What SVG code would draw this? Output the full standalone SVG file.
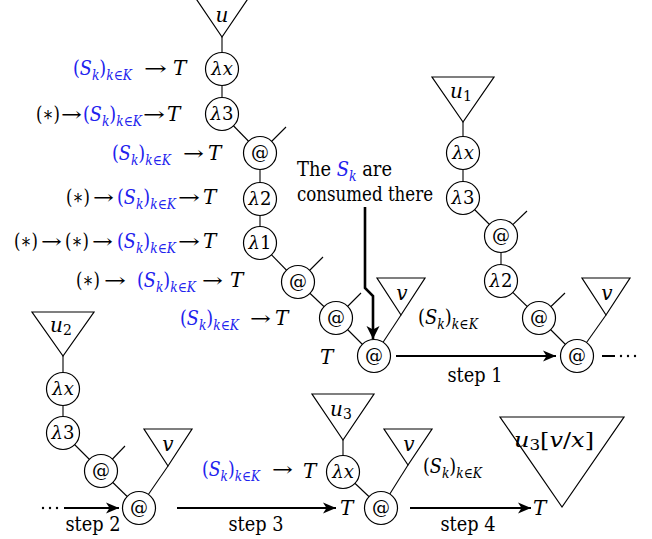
<svg xmlns="http://www.w3.org/2000/svg" width="652" height="539" viewBox="0 0 652 539">
<style>
  text, tspan { font-family: 'DejaVu Serif', 'Liberation Serif', serif; }
  text { font-size: 20px; fill: #000; }
  .it { font-style: italic; }
  .sub { font-size: 14px; }
  .blue, .blue tspan { fill: #2222ee; }
  .nl { font-size: 18px; text-anchor: middle; }
  .node circle { fill: #fff; stroke: #000; stroke-width: 1.2; }
  .tri { fill: #fff; stroke: #000; stroke-width: 1.2; }
  .edge { stroke: #000; stroke-width: 1.1; fill: none; }
  .step { stroke: #000; stroke-width: 2; fill: none; marker-end: url(#ah); }
  .thick { stroke: #000; stroke-width: 2.6; fill: none; marker-end: url(#ah2); }
  .dot { fill: #000; }
  .mid { text-anchor: middle; }
</style>
<defs>
  <marker id="ah" markerUnits="userSpaceOnUse" markerWidth="14" markerHeight="12" refX="13" refY="6" orient="auto">
    <path d="M0,0.5 L13,6 L0,11.5 L3.5,6 z" fill="#000"/>
  </marker>
  <marker id="ah2" markerUnits="userSpaceOnUse" markerWidth="14" markerHeight="14" refX="13" refY="7" orient="auto">
    <path d="M0,0.5 L13,7 L0,13.5 L3.5,7 z" fill="#000"/>
  </marker>
</defs>

<g id="connectors">
  <line class="edge" x1="222" y1="37" x2="222" y2="69"/>
  <line class="edge" x1="222" y1="69" x2="222" y2="114"/>
  <line class="edge" x1="222" y1="114" x2="260" y2="153"/>
  <line class="edge" x1="260" y1="153" x2="286" y2="127"/>
  <line class="edge" x1="260" y1="153" x2="260" y2="199"/>
  <line class="edge" x1="260" y1="199" x2="260" y2="243"/>
  <line class="edge" x1="260" y1="243" x2="298" y2="282"/>
  <line class="edge" x1="298" y1="282" x2="323" y2="257"/>
  <line class="edge" x1="298" y1="282" x2="336" y2="318"/>
  <line class="edge" x1="336" y1="318" x2="361" y2="293"/>
  <line class="edge" x1="336" y1="318" x2="374" y2="356"/>
  <line class="edge" x1="374" y1="356" x2="401" y2="315"/>
  <line class="edge" x1="463" y1="122" x2="463" y2="153"/>
  <line class="edge" x1="463" y1="153" x2="463" y2="198"/>
  <line class="edge" x1="463" y1="198" x2="501" y2="236"/>
  <line class="edge" x1="501" y1="236" x2="527" y2="211"/>
  <line class="edge" x1="501" y1="236" x2="501" y2="281"/>
  <line class="edge" x1="501" y1="281" x2="539" y2="318"/>
  <line class="edge" x1="539" y1="318" x2="565" y2="293"/>
  <line class="edge" x1="539" y1="318" x2="577" y2="356"/>
  <line class="edge" x1="577" y1="356" x2="606" y2="315"/>
  <line class="edge" x1="63" y1="355" x2="63" y2="389"/>
  <line class="edge" x1="63" y1="389" x2="63" y2="433"/>
  <line class="edge" x1="63" y1="433" x2="101" y2="471"/>
  <line class="edge" x1="101" y1="471" x2="125" y2="446"/>
  <line class="edge" x1="101" y1="471" x2="139" y2="508"/>
  <line class="edge" x1="139" y1="508" x2="168" y2="466"/>
  <line class="edge" x1="343" y1="440" x2="343" y2="472"/>
  <line class="edge" x1="343" y1="472" x2="381" y2="508"/>
  <line class="edge" x1="381" y1="508" x2="408" y2="465"/>
  <line class="step" x1="396" y1="356" x2="556" y2="356"/>
  <line x1="602" y1="356" x2="615" y2="356" stroke="#000" stroke-width="2"/>
  <circle class="dot" cx="621" cy="356" r="1.2"/>
  <circle class="dot" cx="628" cy="356" r="1.2"/>
  <circle class="dot" cx="635" cy="356" r="1.2"/>
  <circle class="dot" cx="43" cy="508" r="1.2"/>
  <circle class="dot" cx="50" cy="508" r="1.2"/>
  <circle class="dot" cx="57" cy="508" r="1.2"/>
  <line class="step" x1="64" y1="508" x2="119" y2="508"/>
  <line class="step" x1="177" y1="508" x2="336" y2="508"/>
  <line class="step" x1="410" y1="508" x2="531" y2="508"/>
  <path class="thick" d="M365,207 V288 L373,296 V339"/>
</g>

<g id="u-top"><polygon class="tri" points="191.5,-8 252.5,-8 222,37"/><text font-family="DejaVu Serif" class="it mid" x="222" y="22">u</text></g>
<g id="t-lx" class="node"><circle cx="222" cy="69" r="16.5"/><text font-family="DejaVu Serif" class="nl it" x="222" y="75">λx</text></g>
<g id="t-l3" class="node"><circle cx="222" cy="114" r="16.5"/><text font-family="DejaVu Serif" class="nl" x="222" y="120"><tspan class="it">λ</tspan>3</text></g>
<g id="t-ap1" class="node"><circle cx="260" cy="153" r="16.5"/><text font-family="DejaVu Serif" class="nl" x="260" y="159">@</text></g>
<g id="t-l2" class="node"><circle cx="260" cy="199" r="16.5"/><text font-family="DejaVu Serif" class="nl" x="260" y="205"><tspan class="it">λ</tspan>2</text></g>
<g id="t-l1" class="node"><circle cx="260" cy="243" r="16.5"/><text font-family="DejaVu Serif" class="nl" x="260" y="249"><tspan class="it">λ</tspan>1</text></g>
<g id="t-ap2" class="node"><circle cx="298" cy="282" r="16.5"/><text font-family="DejaVu Serif" class="nl" x="298" y="288">@</text></g>
<g id="t-ap3" class="node"><circle cx="336" cy="318" r="16.5"/><text font-family="DejaVu Serif" class="nl" x="336" y="324">@</text></g>
<g id="t-ap4" class="node"><circle cx="374" cy="356" r="16.5"/><text font-family="DejaVu Serif" class="nl" x="374" y="362">@</text></g>
<g id="v-top"><polygon class="tri" points="377,278 425,278 401,315"/><text font-family="DejaVu Serif" class="it mid" x="402" y="300">v</text></g>

<g id="u1"><polygon class="tri" points="432,77 494,77 463,122"/><text font-family="DejaVu Serif" class="it mid" x="461" y="98">u<tspan class="sub" font-style="normal" dy="3">1</tspan></text></g>
<g id="r-lx" class="node"><circle cx="463" cy="153" r="16.5"/><text font-family="DejaVu Serif" class="nl it" x="463" y="159">λx</text></g>
<g id="r-l3" class="node"><circle cx="463" cy="198" r="16.5"/><text font-family="DejaVu Serif" class="nl" x="463" y="204"><tspan class="it">λ</tspan>3</text></g>
<g id="r-ap1" class="node"><circle cx="501" cy="236" r="16.5"/><text font-family="DejaVu Serif" class="nl" x="501" y="242">@</text></g>
<g id="r-l2" class="node"><circle cx="501" cy="281" r="16.5"/><text font-family="DejaVu Serif" class="nl" x="501" y="287"><tspan class="it">λ</tspan>2</text></g>
<g id="r-ap2" class="node"><circle cx="539" cy="318" r="16.5"/><text font-family="DejaVu Serif" class="nl" x="539" y="324">@</text></g>
<g id="r-ap3" class="node"><circle cx="577" cy="356" r="16.5"/><text font-family="DejaVu Serif" class="nl" x="577" y="362">@</text></g>
<g id="v-right"><polygon class="tri" points="582,278 630,278 606,315"/><text font-family="DejaVu Serif" class="it mid" x="607" y="300">v</text></g>

<g id="u2"><polygon class="tri" points="32,312 94,312 63,356"/><text font-family="DejaVu Serif" class="it mid" x="61" y="332">u<tspan class="sub" font-style="normal" dy="3">2</tspan></text></g>
<g id="bl-lx" class="node"><circle cx="63" cy="389" r="16.5"/><text font-family="DejaVu Serif" class="nl it" x="63" y="395">λx</text></g>
<g id="bl-l3" class="node"><circle cx="63" cy="433" r="16.5"/><text font-family="DejaVu Serif" class="nl" x="63" y="439"><tspan class="it">λ</tspan>3</text></g>
<g id="bl-ap1" class="node"><circle cx="101" cy="471" r="16.5"/><text font-family="DejaVu Serif" class="nl" x="101" y="477">@</text></g>
<g id="bl-ap2" class="node"><circle cx="139" cy="508" r="16.5"/><text font-family="DejaVu Serif" class="nl" x="139" y="514">@</text></g>
<g id="v-bl"><polygon class="tri" points="144,429 192,429 168,466"/><text font-family="DejaVu Serif" class="it mid" x="168" y="451">v</text></g>

<g id="u3"><polygon class="tri" points="312,394 374,394 343,440"/><text font-family="DejaVu Serif" class="it mid" x="341" y="416">u<tspan class="sub" font-style="normal" dy="3">3</tspan></text></g>
<g id="bm-lx" class="node"><circle cx="343" cy="472" r="16.5"/><text font-family="DejaVu Serif" class="nl it" x="343" y="478">λx</text></g>
<g id="bm-ap" class="node"><circle cx="381" cy="508" r="16.5"/><text font-family="DejaVu Serif" class="nl" x="381" y="514">@</text></g>
<g id="v-bm"><polygon class="tri" points="384,429 432,429 408,465"/><text font-family="DejaVu Serif" class="it mid" x="409" y="451">v</text></g>

<g id="u3-subst"><polygon class="tri" points="500,417 624,417 562,507"/><text font-family="DejaVu Serif" x="514" y="447" textLength="80" lengthAdjust="spacingAndGlyphs"><tspan class="it">u</tspan><tspan class="sub" dy="3">3</tspan><tspan dy="-3">[</tspan><tspan class="it">v</tspan>/<tspan class="it">x</tspan>]</text></g>

<g id="label-row1">
  <text font-family="DejaVu Serif" class="blue" x="73" y="75" textLength="59" lengthAdjust="spacingAndGlyphs">(<tspan class="it">S</tspan><tspan class="sub it" dy="5">k</tspan><tspan dy="-5">)</tspan><tspan class="sub" dy="5"><tspan class="it">k</tspan>∈<tspan class="it">K</tspan></tspan></text>
  <text font-family="DejaVu Serif" x="144" y="75" textLength="23" lengthAdjust="spacingAndGlyphs">→</text><text font-family="DejaVu Serif" class="it" x="173" y="75">T</text>
</g>
<g id="label-row2">
  <text font-family="DejaVu Serif" x="36" y="121" textLength="24" lengthAdjust="spacingAndGlyphs">(∗)</text><text font-family="DejaVu Serif" x="61" y="121" textLength="21" lengthAdjust="spacingAndGlyphs">→</text>
  <text font-family="DejaVu Serif" class="blue" x="83" y="121" textLength="59" lengthAdjust="spacingAndGlyphs">(<tspan class="it">S</tspan><tspan class="sub it" dy="5">k</tspan><tspan dy="-5">)</tspan><tspan class="sub" dy="5"><tspan class="it">k</tspan>∈<tspan class="it">K</tspan></tspan></text>
  <text font-family="DejaVu Serif" x="143" y="121" textLength="22" lengthAdjust="spacingAndGlyphs">→</text><text font-family="DejaVu Serif" class="it" x="167" y="121">T</text>
</g>
<g id="label-row3">
  <text font-family="DejaVu Serif" class="blue" x="112" y="160" textLength="59" lengthAdjust="spacingAndGlyphs">(<tspan class="it">S</tspan><tspan class="sub it" dy="5">k</tspan><tspan dy="-5">)</tspan><tspan class="sub" dy="5"><tspan class="it">k</tspan>∈<tspan class="it">K</tspan></tspan></text>
  <text font-family="DejaVu Serif" x="183" y="160" textLength="21" lengthAdjust="spacingAndGlyphs">→</text><text font-family="DejaVu Serif" class="it" x="208" y="160">T</text>
</g>
<g id="label-row4">
  <text font-family="DejaVu Serif" x="66" y="204" textLength="24" lengthAdjust="spacingAndGlyphs">(∗)</text><text font-family="DejaVu Serif" x="93" y="204" textLength="21" lengthAdjust="spacingAndGlyphs">→</text>
  <text font-family="DejaVu Serif" class="blue" x="117" y="204" textLength="59" lengthAdjust="spacingAndGlyphs">(<tspan class="it">S</tspan><tspan class="sub it" dy="5">k</tspan><tspan dy="-5">)</tspan><tspan class="sub" dy="5"><tspan class="it">k</tspan>∈<tspan class="it">K</tspan></tspan></text>
  <text font-family="DejaVu Serif" x="178" y="204" textLength="22" lengthAdjust="spacingAndGlyphs">→</text><text font-family="DejaVu Serif" class="it" x="203" y="204">T</text>
</g>
<g id="label-row5">
  <text font-family="DejaVu Serif" x="14" y="248" textLength="24" lengthAdjust="spacingAndGlyphs">(∗)</text><text font-family="DejaVu Serif" x="41" y="248" textLength="21" lengthAdjust="spacingAndGlyphs">→</text>
  <text font-family="DejaVu Serif" x="65" y="248" textLength="24" lengthAdjust="spacingAndGlyphs">(∗)</text><text font-family="DejaVu Serif" x="92" y="248" textLength="21" lengthAdjust="spacingAndGlyphs">→</text>
  <text font-family="DejaVu Serif" class="blue" x="117" y="248" textLength="59" lengthAdjust="spacingAndGlyphs">(<tspan class="it">S</tspan><tspan class="sub it" dy="5">k</tspan><tspan dy="-5">)</tspan><tspan class="sub" dy="5"><tspan class="it">k</tspan>∈<tspan class="it">K</tspan></tspan></text>
  <text font-family="DejaVu Serif" x="178" y="248" textLength="22" lengthAdjust="spacingAndGlyphs">→</text><text font-family="DejaVu Serif" class="it" x="203" y="248">T</text>
</g>
<g id="label-row6">
  <text font-family="DejaVu Serif" x="76" y="287" textLength="24" lengthAdjust="spacingAndGlyphs">(∗)</text><text font-family="DejaVu Serif" x="104" y="287" textLength="22" lengthAdjust="spacingAndGlyphs">→</text>
  <text font-family="DejaVu Serif" class="blue" x="137" y="287" textLength="59" lengthAdjust="spacingAndGlyphs">(<tspan class="it">S</tspan><tspan class="sub it" dy="5">k</tspan><tspan dy="-5">)</tspan><tspan class="sub" dy="5"><tspan class="it">k</tspan>∈<tspan class="it">K</tspan></tspan></text>
  <text font-family="DejaVu Serif" x="202" y="287" textLength="21" lengthAdjust="spacingAndGlyphs">→</text><text font-family="DejaVu Serif" class="it" x="230" y="287">T</text>
</g>
<g id="label-row7">
  <text font-family="DejaVu Serif" class="blue" x="180" y="325" textLength="59" lengthAdjust="spacingAndGlyphs">(<tspan class="it">S</tspan><tspan class="sub it" dy="5">k</tspan><tspan dy="-5">)</tspan><tspan class="sub" dy="5"><tspan class="it">k</tspan>∈<tspan class="it">K</tspan></tspan></text>
  <text font-family="DejaVu Serif" x="250" y="325" textLength="21" lengthAdjust="spacingAndGlyphs">→</text><text font-family="DejaVu Serif" class="it" x="275" y="325">T</text>
</g>
<g id="label-T-top"><text font-family="DejaVu Serif" class="it" x="320" y="364">T</text></g>
<g id="label-S-top"><text font-family="DejaVu Serif" x="418" y="324" textLength="60" lengthAdjust="spacingAndGlyphs">(<tspan class="it">S</tspan><tspan class="sub it" dy="5">k</tspan><tspan dy="-5">)</tspan><tspan class="sub" dy="5"><tspan class="it">k</tspan>∈<tspan class="it">K</tspan></tspan></text></g>
<g id="label-consumed">
  <text font-family="DejaVu Serif" x="297" y="176" textLength="95" lengthAdjust="spacingAndGlyphs">The <tspan class="it" fill="#2222ee">S</tspan><tspan class="sub it" fill="#2222ee" dy="5">k</tspan><tspan dy="-5"> are</tspan></text>
  <text font-family="DejaVu Serif" x="297" y="201" textLength="136" lengthAdjust="spacingAndGlyphs">consumed there</text>
</g>
<g id="label-steps">
  <text font-family="DejaVu Serif" class="mid" x="475" y="382" textLength="55" lengthAdjust="spacingAndGlyphs">step 1</text>
  <text font-family="DejaVu Serif" class="mid" x="93" y="531" textLength="55" lengthAdjust="spacingAndGlyphs">step 2</text>
  <text font-family="DejaVu Serif" class="mid" x="256" y="531" textLength="55" lengthAdjust="spacingAndGlyphs">step 3</text>
  <text font-family="DejaVu Serif" class="mid" x="468" y="531" textLength="55" lengthAdjust="spacingAndGlyphs">step 4</text>
</g>
<g id="label-bottom">
  <text font-family="DejaVu Serif" class="blue" x="202" y="476" textLength="58" lengthAdjust="spacingAndGlyphs">(<tspan class="it">S</tspan><tspan class="sub it" dy="5">k</tspan><tspan dy="-5">)</tspan><tspan class="sub" dy="5"><tspan class="it">k</tspan>∈<tspan class="it">K</tspan></tspan></text>
  <text font-family="DejaVu Serif" x="272" y="476" textLength="21" lengthAdjust="spacingAndGlyphs">→</text><text font-family="DejaVu Serif" class="it" x="303" y="478">T</text>
  <text font-family="DejaVu Serif" class="it" x="340" y="515">T</text>
  <text font-family="DejaVu Serif" x="423" y="473" textLength="59" lengthAdjust="spacingAndGlyphs">(<tspan class="it">S</tspan><tspan class="sub it" dy="5">k</tspan><tspan dy="-5">)</tspan><tspan class="sub" dy="5"><tspan class="it">k</tspan>∈<tspan class="it">K</tspan></tspan></text>
  <text font-family="DejaVu Serif" class="it" x="533" y="515">T</text>
</g>
</svg>
